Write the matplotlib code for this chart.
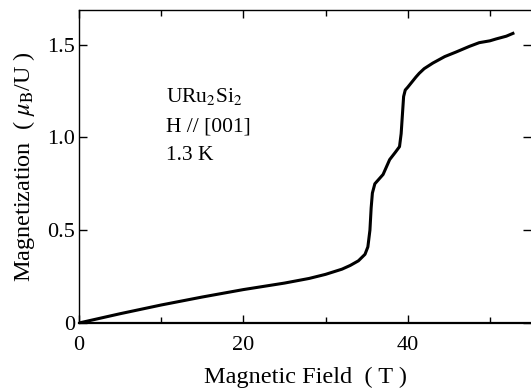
import matplotlib
matplotlib.use("Agg")
import matplotlib.pyplot as plt
from matplotlib.ticker import MultipleLocator, FixedLocator

plt.rcParams['font.family'] = ['Liberation Serif', 'DejaVu Serif']
plt.rcParams['mathtext.fontset'] = 'stix'

field = [0, 2, 5, 10, 15, 20, 25, 28, 30, 32, 33, 34, 34.8, 35.15, 35.4, 35.55,
         35.7, 36.0, 36.5, 37.0, 37.8, 38.5, 39.0, 39.2, 39.35, 39.5, 39.7, 40.0,
         41.0, 41.4, 42.0, 43.05, 44.5, 45.9, 47.5, 48.7, 50.0, 50.75, 52.0, 52.8]
magnet = [0, 0.02, 0.05, 0.097, 0.14, 0.18, 0.215, 0.24, 0.262, 0.29, 0.31, 0.335,
          0.37, 0.41, 0.50, 0.62, 0.70, 0.75, 0.775, 0.80, 0.88, 0.92, 0.95, 1.02,
          1.12, 1.22, 1.255, 1.27, 1.325, 1.345, 1.37, 1.40, 1.435, 1.46, 1.49,
          1.51, 1.52, 1.53, 1.545, 1.56]

xticks = [0, 20, 40]
yticks = [0, 0.5, 1.0, 1.5]
ytick_labels = ['0', '0.5', '1.0', '1.5']
annotation = [r'URu$_2$Si$_2$', 'H // [001]', '1.3 K']

fig = plt.figure(figsize=(5.31, 3.90), dpi=100)
ax = fig.add_axes([79/531, 67/390, 1 - 79/531, (323 - 10)/390])
ax.plot(field, magnet, color='black', lw=2.2)
ax.set_xlim(0, 55)
ax.set_ylim(0, 1.686)

ax.xaxis.set_major_locator(FixedLocator(xticks))
ax.xaxis.set_minor_locator(MultipleLocator(10))
ax.yaxis.set_major_locator(FixedLocator(yticks))
ax.set_yticklabels(ytick_labels)
ax.tick_params(which='both', direction='in', top=True, right=True,
               labelsize=16, color='black')
ax.tick_params(which='major', length=6, width=1)
ax.tick_params(which='minor', length=4, width=1)
ax.tick_params(axis='x', pad=9)
ax.tick_params(axis='y', pad=3)
ax.spines['right'].set_visible(False)
for s in ['left', 'top']:
    ax.spines[s].set_linewidth(1.0)
ax.spines['bottom'].set_linewidth(1.6)

ax.set_xlabel('Magnetic Field  ( T )', fontsize=17.5, labelpad=9)
ax.set_ylabel(r'Magnetization  ( $\mu_{\rm B}$/U )', fontsize=17.5, labelpad=7)

ys = [1.192, 1.031, 0.878]
for t, y in zip(annotation, ys):
    ax.text(10.6, y, t, fontsize=15.5, va='baseline', ha='left')

fig.savefig('out.png', dpi=100)
